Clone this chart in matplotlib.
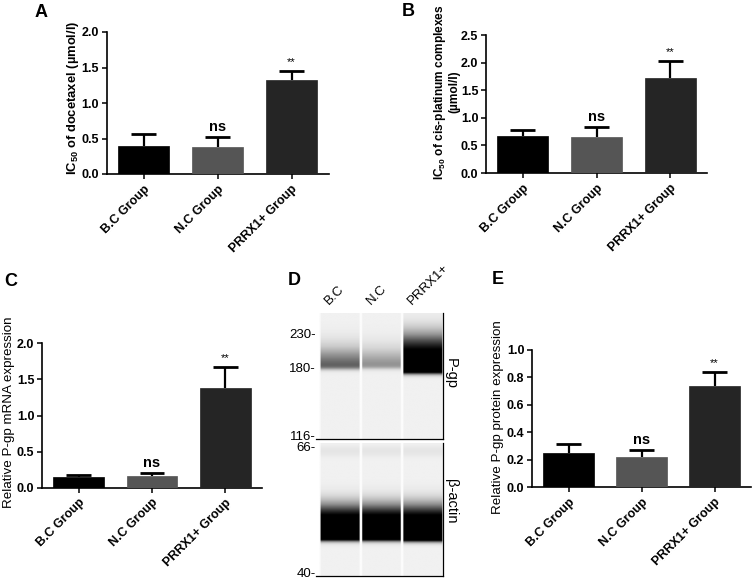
import numpy as np
import matplotlib
matplotlib.use("Agg")
import matplotlib.pyplot as plt

plt.rcParams["font.family"] = ["Liberation Sans", "DejaVu Sans"]
plt.rcParams["mathtext.default"] = "regular"

W, H = 756, 581

groups = ["B.C Group", "N.C Group", "PRRX1+ Group"]
bar_colors = ["#000000", "#555555", "#252525"]

# panel A: IC50 docetaxel
a_mean = [0.40, 0.385, 1.32]
a_err = [0.16, 0.135, 0.125]
# panel B: IC50 cis-platinum
b_mean = [0.67, 0.65, 1.73]
b_err = [0.11, 0.19, 0.29]
# panel C: P-gp mRNA
c_mean = [0.145, 0.165, 1.38]
c_err = [0.035, 0.035, 0.29]
# panel E: P-gp protein
e_mean = [0.247, 0.222, 0.738]
e_err = [0.067, 0.048, 0.099]

# panel D: blot band strengths per lane
lanes = ["B.C", "N.C", "PRRX1+"]
pgp_strength = [0.72, 0.48, 1.6]
pgp_top = [0.27, 0.28, 0.17]
pgp_bottom = [0.445, 0.44, 0.48]
actin_strength = [1.8, 1.8, 1.8]
actin_top = [0.46, 0.46, 0.46]
actin_bottom = [0.73, 0.73, 0.735]
pgp_markers = ["230-", "180-", "116-"]
pgp_marker_pos = [0.175, 0.445, 0.985]
actin_markers = ["66-", "40-"]
actin_marker_pos = [0.04, 0.985]


def box(x0, y0, x1, y1):
    return [x0 / W, 1 - y1 / H, (x1 - x0) / W, (y1 - y0) / H]


fig = plt.figure(figsize=(W / 100, H / 100), dpi=100)


def bar_panel(rect, mean, err, ymax, step, ylabel, bold_label, label_xy, label_size):
    ax = fig.add_axes(box(*rect))
    x = np.arange(len(mean))
    ax.bar(x, mean, width=0.69, color=bar_colors, edgecolor=bar_colors, linewidth=0.5, zorder=3)
    top = np.array(mean) + np.array(err)
    ax.vlines(x, mean, top, color="black", linewidth=1.6, zorder=4)
    ax.hlines(top, x - 0.17, x + 0.17, color="black", linewidth=2.0, zorder=4)
    ax.text(x[1], top[1] + ymax * 0.02, "ns", ha="center", va="bottom",
            fontsize=10.5, fontweight="bold")
    ax.text(x[2], top[2] + ymax * 0.03, "**", ha="center", va="bottom", fontsize=8)
    ax.set_xlim(-0.5, 2.5)
    ax.set_ylim(0, ymax)
    ax.set_yticks(np.arange(0, ymax + step / 2, step))
    ax.yaxis.set_major_formatter(matplotlib.ticker.FormatStrFormatter("%.1f"))
    ax.set_xticks(x)
    ax.set_xticklabels(groups, rotation=45, ha="right", rotation_mode="anchor",
                       fontsize=9, fontweight="bold")
    for lab in ax.get_yticklabels():
        lab.set_fontweight("bold")
        lab.set_fontsize(9)
    ax.tick_params(axis="both", direction="out", length=3.5, width=1.1, pad=2)
    ax.tick_params(axis="x", pad=3)
    for s in ["top", "right"]:
        ax.spines[s].set_visible(False)
    for s in ["left", "bottom"]:
        ax.spines[s].set_linewidth(1.2)
    fig.text(label_xy[0] / W, 1 - label_xy[1] / H, ylabel, rotation=90, ha="center",
             va="center", fontsize=label_size,
             fontweight="bold" if bold_label else "normal", linespacing=1.1)
    return ax


bar_panel((106.5, 32, 328.5, 174), a_mean, a_err, 2.0, 0.5,
          r"IC$_{50}$ of docetaxel (µmol/l)", True, (73, 98), 9.4)
bar_panel((486, 35, 707, 173), b_mean, b_err, 2.5, 0.5,
          "IC$_{50}$ of cis-platinum complexes\n(µmol/l)", True, (446, 92), 8.6)
bar_panel((42, 343.3, 262, 487.7), c_mean, c_err, 2.0, 0.5,
          "Relative P-gp mRNA expression", False, (9, 412), 9.6)
bar_panel((532, 349.7, 751, 487.3), e_mean, e_err, 1.0, 0.2,
          "Relative P-gp protein expression", False, (498, 417), 9.6)


def sig(z):
    return 1 / (1 + np.exp(-z))


def blot(rect, strength, tops, bottoms, smear, fade):
    ax = fig.add_axes(box(*rect))
    nrows, ncols = 260, 240
    y = np.linspace(0, 1, nrows)[:, None]
    xx = np.linspace(0, 3, ncols)[None, :]
    img = np.full((nrows, ncols), 0.985)
    for i in range(3):
        inlane = (xx > i + 0.03) & (xx < i + 0.97)
        t, b = tops[i], bottoms[i]
        ramp = np.clip((y - t) / (b - t), 0, 1)
        d = strength[i] * sig((y - t) / fade) * sig((b - y) / 0.01) * (0.45 + 0.55 * ramp)
        d = d + smear * np.exp(-((y - 0.06) / 0.04) ** 2)
        d = np.clip(d, 0, 1)
        lane = 0.945 * (1 - d)
        img = np.where(inlane, lane, img)
    ax.imshow(img, cmap="gray", vmin=0, vmax=1, extent=(0, 3, 1, 0), aspect="auto",
              interpolation="bilinear")
    ax.set_xlim(-0.07, 3)
    ax.set_ylim(1, 0)
    ax.set_xticks([])
    ax.set_yticks([])
    for s in ["top", "left"]:
        ax.spines[s].set_visible(False)
    for s in ["right", "bottom"]:
        ax.spines[s].set_linewidth(0.9)
    return ax


ax_top = blot((316, 313, 443, 439), pgp_strength, pgp_top, pgp_bottom, 0.0, 0.045)
ax_bot = blot((316, 443, 443, 576), actin_strength, actin_top, actin_bottom, 0.05, 0.035)

for lab, pos in zip(pgp_markers, pgp_marker_pos):
    ax_top.text(-0.07, pos, lab, ha="right", va="center", fontsize=9.5)
for lab, pos in zip(actin_markers, actin_marker_pos):
    ax_bot.text(-0.07, pos, lab, ha="right", va="center", fontsize=9.5)
for i, lab in enumerate(lanes):
    ax_top.text(i + 0.3, -0.05, lab, rotation=45, ha="left", va="bottom",
                rotation_mode="anchor", fontsize=9.5)
ax_top.text(1.06, 0.52, "P-gp", transform=ax_top.transAxes, rotation=-90,
            ha="center", va="center", fontsize=10.5)
ax_bot.text(1.06, 0.56, "β-actin", transform=ax_bot.transAxes, rotation=-90,
            ha="center", va="center", fontsize=10.5)

for letter, (lx, ly) in zip("ABCDE", [(35, 12.5), (402, 11), (4, 281), (288, 280.5), (492, 280)]):
    fig.text(lx / W, 1 - ly / H, letter, ha="left", va="center", fontsize=13,
             fontweight="bold")

fig.savefig("out.png", dpi=100)
